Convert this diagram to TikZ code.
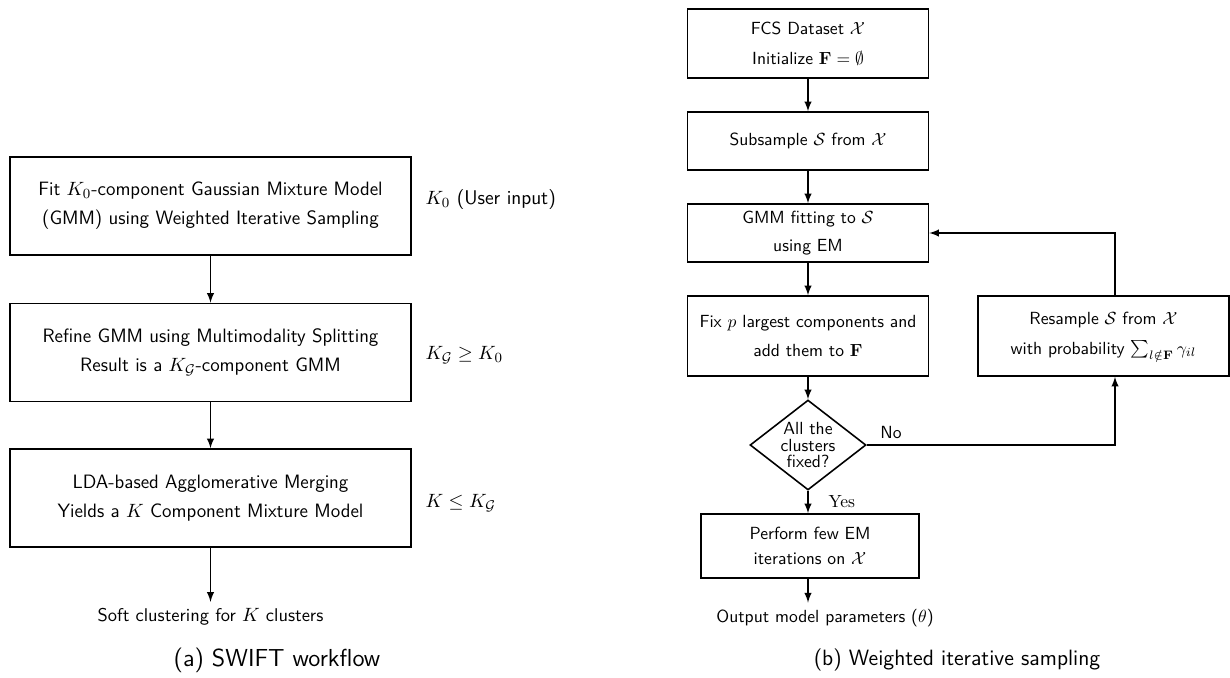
\documentclass[tikz,border=0pt]{standalone}
\usepackage{amsmath,amssymb}
\usetikzlibrary{shapes.geometric}
\begin{document}
\begin{tikzpicture}[x=0.02cm, y=-0.02cm, >=latex, line width=0.9pt,
    stage/.style={draw, align=center, font=\sffamily, inner sep=2pt},
    bigstage/.style={stage, font=\fontsize{11}{13.5}\selectfont\sffamily,
        minimum width=8.02cm, minimum height=1.96cm},
    query/.style={draw, shape=diamond, aspect=1.29, inner sep=0pt,
        minimum width=2.32cm, minimum height=1.8cm, align=center, font=\sffamily},
    sidenote/.style={anchor=west, font=\fontsize{11.3}{13}\selectfont},
    caption/.style={font=\fontsize{12.6}{15}\selectfont\sffamily}]
    \useasboundingbox (0,0) rectangle (1230,677);

    % (a) SWIFT workflow
    \node[bigstage] (fit) at (210.5,206)
        {Fit $K_0$-component Gaussian Mixture Model\\[3pt] (GMM) using Weighted Iterative Sampling};
    \node[bigstage] (refine) at (210.5,352.5)
        {Refine GMM using Multimodality Splitting\\[3pt] Result is a $K_{\mathcal{G}}$-component GMM};
    \node[bigstage] (merge) at (210.5,498)
        {LDA-based Agglomerative Merging\\[3pt] Yields a $K$ Component Mixture Model};
    \node[font=\fontsize{10.5}{12}\selectfont\sffamily] (soft) at (210.5,617)
        {Soft clustering for $K$ clusters};

    \node[sidenote] (kzero) at (419,200) {$K_0$ \textsf{(User input)}};
    \node[sidenote] (kg) at (419,355) {$K_{\mathcal{G}} \geq K_0$};
    \node[sidenote] (kk) at (419,503) {$K \leq K_{\mathcal{G}}$};

    \draw[->] (fit) -- (refine);
    \draw[->] (refine) -- (merge);
    \draw[->] (merge) -- (soft);

    \node[caption, font=\fontsize{14}{16}\selectfont\sffamily] (capa) at (277,660) {(a) SWIFT workflow};

    % (b) Weighted iterative sampling
    \node[stage, minimum width=4.82cm, minimum height=1.38cm] (data) at (808,43.5)
        {FCS Dataset $\mathcal{X}$\\[5pt] Initialize $\mathbf{F} = \emptyset$};
    \node[stage, minimum width=4.82cm, minimum height=1.16cm] (sub) at (808,141)
        {Subsample $\mathcal{S}$ from $\mathcal{X}$};
    \node[stage, minimum width=4.82cm, minimum height=1.16cm] (gmm) at (808,233)
        {GMM fitting to $\mathcal{S}$\\[4pt] using EM};
    \node[stage, minimum width=4.82cm, minimum height=1.6cm] (fix) at (808,336)
        {Fix $p$ largest components and\\[5pt] add them to $\mathbf{F}$};
    \node[stage, minimum width=5.02cm, minimum height=1.6cm] (resample) at (1103.5,336)
        {Resample $\mathcal{S}$ from $\mathcal{X}$\\[5pt] with probability $\sum_{l \notin \mathbf{F}} \gamma_{il}$};
    \node[query] (done) at (808,445) {All the\\[-2.5pt] clusters\\[-2.5pt] fixed?};
    \node[stage, minimum width=4.36cm, minimum height=1.28cm] (final) at (810,546)
        {Perform few EM\\[2pt] iterations on $\mathcal{X}$};
    \node[font=\sffamily] (out) at (825,618) {Output model parameters ($\theta$)};
    \coordinate (turn) at (1115,227);

    \draw[->] (data) -- (sub);
    \draw[->] (sub) -- (gmm);
    \draw[->] (gmm) -- (fix);
    \draw[->] (fix) -- (done);
    \draw[->] (done.east) -| (resample.south -| turn)
        node[pos=0, anchor=south west, xshift=4pt, font=\sffamily] {No};
    \draw[->] (resample.north -| turn) |- (gmm.east);
    \draw[->] (done.south) -- (final.north -| done.south)
        node[midway, anchor=west, xshift=8pt] {Yes};
    \draw[->] (final.south -| done) -- (out.north -| done);

    \node[caption] (capb) at (957,660) {(b) Weighted iterative sampling};
\end{tikzpicture}
\end{document}
